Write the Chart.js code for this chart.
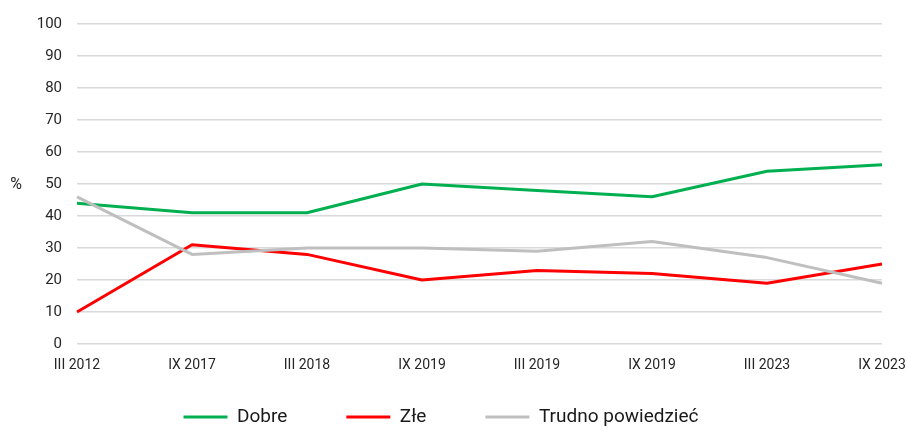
<!DOCTYPE html>
<html>
<head>
<meta charset="utf-8">
<script src="https://cdn.jsdelivr.net/npm/chart.js@4/dist/chart.umd.min.js"></script>
<style>
  html, body { margin: 0; padding: 0; background: #ffffff; }
  #wrap { width: 907px; height: 428px; position: relative; }
</style>
</head>
<body>
<div id="wrap"><canvas id="c" width="907" height="428"></canvas></div>
<script>
const categories = ["III 2012", "IX 2017", "III 2018", "IX 2019", "III 2019", "IX 2019", "III 2023", "IX 2023"];
const dobre  = [44, 41, 41, 50, 48, 46, 54, 56];
const zle    = [10, 31, 28, 20, 23, 22, 19, 25];
const trudno = [46, 28, 30, 30, 29, 32, 27, 19];
const seriesNames = ["Dobre", "Złe", "Trudno powiedzieć"];
const yTitle = "%";

const LEGEND_PAD = 59;
const LEGEND_H = 52;
const X_AXIS_H = 32;
const LEGEND_CENTER_FROM_BOTTOM = 11;

const legendPatch = {
  id: 'legendPatch',
  afterInit(chart) {
    const lg = chart.legend;
    if (lg) {
      const f = lg.fit;
      lg.fit = function () { f.call(this); this.height = LEGEND_H; };
    }
  },
  afterLayout(chart) {
    const lg = chart.legend;
    if (lg) {
      const itemH = 19;
      lg.top = chart.height - LEGEND_CENTER_FROM_BOTTOM - itemH / 2 - LEGEND_PAD;
    }
  }
};

const pctLabel = {
  id: 'pctLabel',
  afterDraw(chart) {
    const ctx = chart.ctx;
    const a = chart.chartArea;
    ctx.save();
    ctx.font = '16px Roboto';
    ctx.fillStyle = '#262626';
    ctx.textAlign = 'center';
    ctx.textBaseline = 'middle';
    ctx.fillText(yTitle, 16, (a.top + a.bottom) / 2 + 1);
    ctx.restore();
  }
};

new Chart(document.getElementById('c'), {
  type: 'line',
  data: {
    labels: categories,
    datasets: [
      { label: seriesNames[0], data: dobre, borderColor: '#00b050', backgroundColor: '#00b050', order: 2 },
      { label: seriesNames[1], data: zle, borderColor: '#ff0000', backgroundColor: '#ff0000', order: 1 },
      { label: seriesNames[2], data: trudno, borderColor: '#bfbfbf', backgroundColor: '#bfbfbf', order: 0 }
    ]
  },
  options: {
    responsive: false,
    animation: false,
    devicePixelRatio: 1,
    layout: { padding: { top: 24, right: 25, left: 0, bottom: 0 } },
    elements: {
      line: { borderWidth: 3, tension: 0, borderCapStyle: 'butt', borderJoinStyle: 'round' },
      point: { radius: 0, hoverRadius: 0 }
    },
    datasets: { line: { clip: false } },
    scales: {
      x: {
        type: 'category',
        offset: false,
        grid: { display: false, drawTicks: false },
        border: { display: false },
        ticks: { font: { family: 'Roboto', size: 14 }, color: '#262626', padding: 13, maxRotation: 0, autoSkip: false },
        afterFit(s) { s.height = X_AXIS_H; s.paddingLeft = 0; s.paddingRight = 0; }
      },
      y: {
        min: 0, max: 100,
        ticks: { stepSize: 10, font: { family: 'Roboto', size: 15 }, color: '#262626', padding: 15 },
        grid: { color: '#d9d9d9', lineWidth: 1.5, drawTicks: false },
        border: { display: false },
        afterFit(s) { s.width = 77; }
      }
    },
    plugins: {
      legend: {
        position: 'bottom',
        labels: {
          boxWidth: 44,
          boxHeight: 3,
          padding: LEGEND_PAD,
          font: { family: 'Roboto', size: 19 },
          color: '#1a1a1a',
          sort: (a, b) => a.datasetIndex - b.datasetIndex,
          generateLabels(chart) {
            return chart.data.datasets.map((ds, i) => ({
              text: ds.label,
              fillStyle: ds.borderColor,
              strokeStyle: ds.borderColor,
              lineWidth: 0,
              hidden: false,
              datasetIndex: i,
              fontColor: '#1a1a1a'
            }));
          }
        }
      },
      tooltip: { enabled: false }
    }
  },
  plugins: [legendPatch, pctLabel]
});
</script>
</body>
</html>
